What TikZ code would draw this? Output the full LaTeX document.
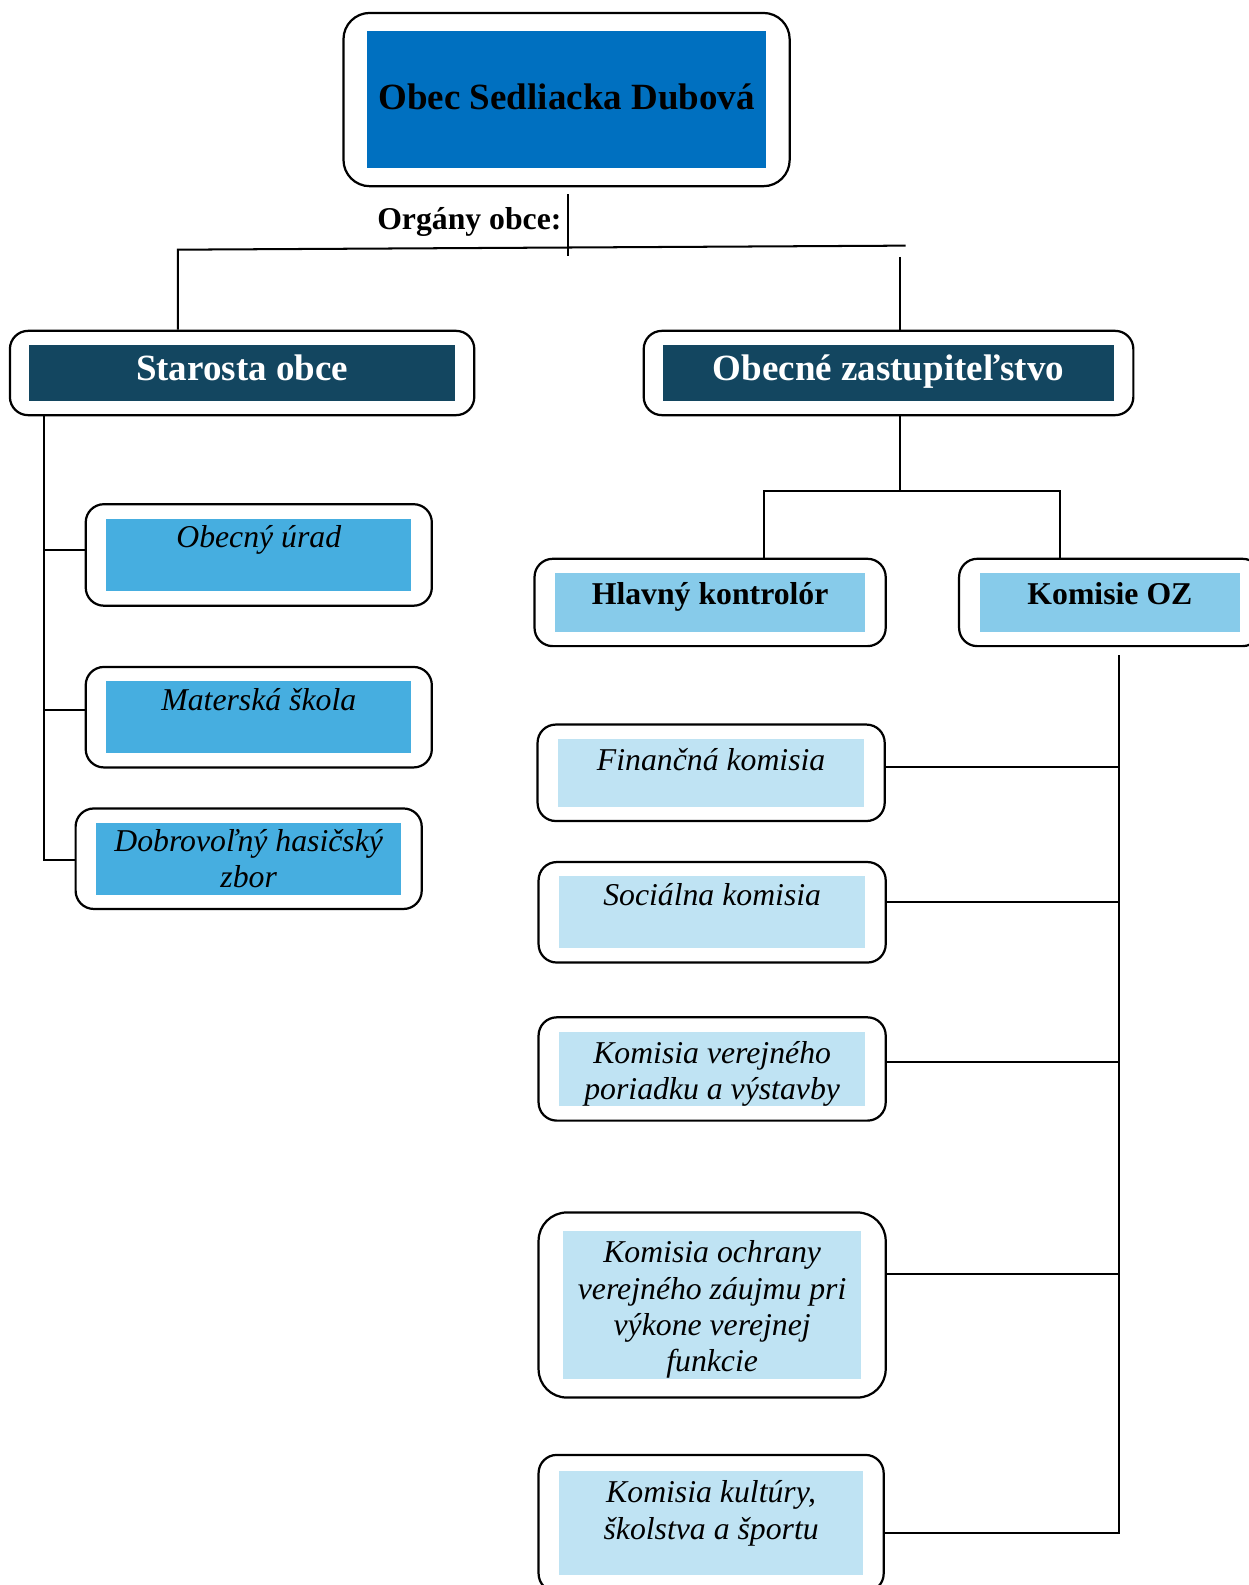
\documentclass[tikz,border=0pt]{standalone}
\usepackage{fontspec}
\setmainfont{Liberation Serif}
\usetikzlibrary{fit}

\definecolor{obecblue}{HTML}{0070C0}
\definecolor{darkteal}{HTML}{134660}
\definecolor{midblue}{HTML}{46AEE0}
\definecolor{skyblue}{HTML}{87CBEA}
\definecolor{paleblue}{HTML}{BFE3F3}

\newcommand{\padtop}{\rule{0pt}{31pt}}

\tikzset{
  cell/.style 2 args={minimum width=#1, minimum height=#2, inner sep=0pt, align=center},
  frame/.style={draw, line width=2.2pt, rounded corners=18pt, inner xsep=20pt, inner ysep=14pt},
  link/.style={line width=2pt},
  headfont/.style={font=\fontsize{36.6}{42}\selectfont\bfseries},
  boldfont/.style={font=\fontsize{31.4}{36}\selectfont\bfseries},
  itfont/.style={font=\fontsize{31.4}{36}\selectfont\itshape},
  darkhead/.style={fill=darkteal, text=white, headfont, text height=25pt, text depth=10pt},
  lighthead/.style={fill=skyblue, boldfont, text height=21pt, text depth=16pt},
}

\begin{document}
\begin{tikzpicture}[x=1pt, y=-1pt]
    \useasboundingbox (0,0) rectangle (1235,1568);

    % obec
    \node[cell={395pt}{135pt}, fill=obecblue, headfont, text height=26pt, text depth=6pt] (top) at (560.5,98.5) {Obec Sedliacka Dubová};
    \node[frame, fit=(top), inner xsep=23pt, inner ysep=18pt, rounded corners=26pt] (topf) {};
    \node[anchor=east, boldfont] (org) at (559,220) {Orgány obce:};

    % organy obce
    \node[cell={421pt}{56pt}, darkhead] (sta) at (239.5,369) {Starosta obce};
    \node[frame, fit=(sta), inner xsep=19pt, inner ysep=13.5pt] (staf) {};
    \node[cell={446pt}{56pt}, darkhead] (oz) at (879,369) {Obecné zastupiteľstvo};
    \node[frame, fit=(oz), inner xsep=19pt, inner ysep=13.5pt] (ozf) {};

    % pod starostom
    \node[cell={302pt}{72pt}, fill=midblue, itfont] (obu) at (256,549) {Obecný úrad\\ \mbox{}};
    \node[frame, fit=(obu)] (obuf) {};
    \node[cell={302pt}{71pt}, fill=midblue, itfont] (ms) at (256,709.5) {Materská škola\\ \mbox{}};
    \node[frame, fit=(ms)] (msf) {};
    \node[cell={302pt}{71pt}, fill=midblue, itfont] (dhz) at (246,849.5) {Dobrovoľný hasičský\\ zbor};
    \node[frame, fit=(dhz)] (dhzf) {};

    % pod zastupitelstvom
    \node[cell={307pt}{58pt}, lighthead] (hk) at (702.5,596) {Hlavný kontrolór};
    \node[frame, fit=(hk)] (hkf) {};
    \node[cell={258pt}{58pt}, lighthead] (koz) at (1098,596) {Komisie OZ};
    \node[frame, fit=(koz)] (kozf) {};

    % komisie
    \node[cell={303pt}{65pt}, fill=paleblue, itfont] (fin) at (703.5,764.5) {\padtop Finančná komisia\\ \mbox{}};
    \node[frame, fit=(fin)] (finf) {};
    \node[cell={303pt}{71pt}, fill=paleblue, itfont] (soc) at (704.5,902.5) {Sociálna komisia\\ \mbox{}};
    \node[frame, fit=(soc)] (socf) {};
    \node[cell={303pt}{73pt}, fill=paleblue, itfont] (kvp) at (704.5,1057.5) {\padtop Komisia verejného\\ poriadku a výstavby};
    \node[frame, fit=(kvp)] (kvpf) {};
    \node[cell={295pt}{142pt}, fill=paleblue, itfont] (koc) at (704.5,1291) {\padtop Komisia ochrany\\ verejného záujmu pri\\ výkone verejnej\\ funkcie};
    \node[frame, fit=(koc), inner xsep=24pt, inner ysep=18.5pt, rounded corners=28pt] (kocf) {};
    \node[cell={301pt}{102pt}, fill=paleblue, itfont] (kks) at (703.5,1507) {\padtop Komisia kultúry,\\ školstva a športu\\ \mbox{}};
    \node[frame, fit=(kks), inner ysep=16pt] (kksf) {};

    % spojnice hore
    \coordinate (stemtop) at (562,192);
    \coordinate (stem) at (562,253);
    \coordinate (hl) at (176,247);
    \coordinate (hr) at (896,243);
    \coordinate (hv) at (890,254);
    \draw[link] (stemtop) -- (stem);
    \draw[link] (hl |- staf.north) -- (hl) -- (hr);
    \draw[link] (hv) -- (hv |- ozf.north);

    % starosta
    \coordinate (trunk) at (44,851);
    \draw[link] (trunk |- staf.south) -- (trunk) -- (trunk -| dhzf.west);
    \draw[link] ([yshift=5pt]obuf.west) -| (trunk);
    \draw[link] ([yshift=7pt]msf.west) -| (trunk);

    % zastupitelstvo
    \coordinate (ozm) at (890,486);
    \coordinate (ozl) at (756,486);
    \coordinate (ozr) at (1049,486);
    \draw[link] (ozm |- ozf.south) -- (ozm);
    \draw[link] (ozl |- hkf.north) -- (ozl) -- (ozr) -- (ozr |- kozf.north);

    % komisie OZ
    \coordinate (ktop) at (1107,648);
    \coordinate (kbot) at (1107,1517);
    \draw[link] (ktop) -- (kbot) -- ([yshift=-10pt]kksf.east);
    \foreach \c/\dy in {finf/5.5, socf/10.5, kvpf/6.5, kocf/31}
        \draw[link] ([yshift=\dy pt]\c.east) -| (ktop);
\end{tikzpicture}
\end{document}
